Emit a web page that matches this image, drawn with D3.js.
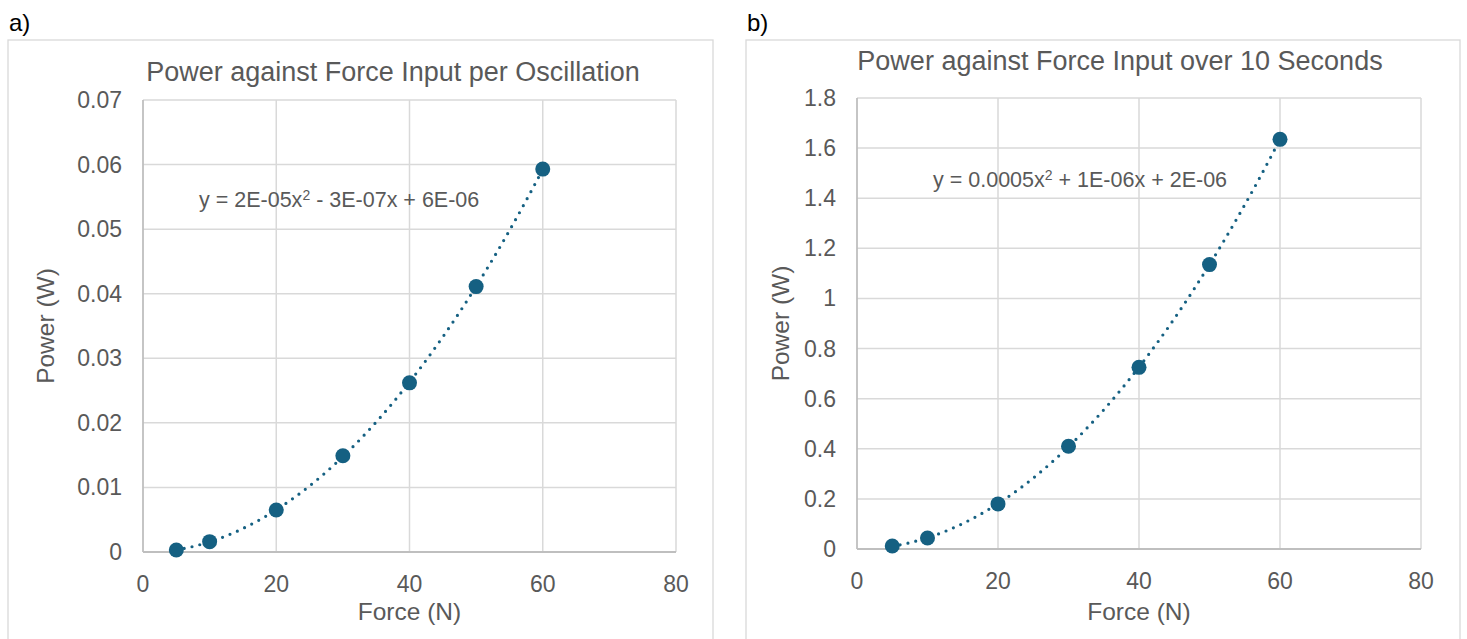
<!DOCTYPE html>
<html>
<head>
<meta charset="utf-8">
<script src="https://cdn.jsdelivr.net/npm/d3@7"></script>
<style>
  body { margin: 0; background: #fff; }
  svg text { font-family: "Liberation Sans", Arial, sans-serif; fill: #595959; }
</style>
</head>
<body>
<div id="chart"></div>
<script>
'use strict';

// Force input (N), same for both charts
const force = [5, 10, 20, 30, 40, 50, 60];
// Power per oscillation (W)
const powerPerOsc = [0.0003, 0.0016, 0.0065, 0.0149, 0.0262, 0.0411, 0.0593];
// Power over 10 seconds (W)
const power10s = [0.012, 0.044, 0.18, 0.41, 0.725, 1.135, 1.635];

const xTicks = [0, 20, 40, 60, 80];
const yTicksA = [0, 0.01, 0.02, 0.03, 0.04, 0.05, 0.06, 0.07];
const yTicksB = [0, 0.2, 0.4, 0.6, 0.8, 1, 1.2, 1.4, 1.6, 1.8];

const markerColor = '#156082';

const svg = d3.select('#chart')
    .append('svg')
    .attr('width', 1467)
    .attr('height', 639);

/*** Least squares quadratic fit, returns [a, b, c] for a*x^2 + b*x + c ***/
function quadFit(xs, ys) {
    let s = [0, 0, 0, 0, 0], t = [0, 0, 0];
    xs.forEach((x, i) => {
        for (let k = 0; k < 5; k++) s[k] += Math.pow(x, k);
        for (let k = 0; k < 3; k++) t[k] += Math.pow(x, k) * ys[i];
    });
    // normal equations, solved with Cramer's rule
    let m = [[s[4], s[3], s[2]], [s[3], s[2], s[1]], [s[2], s[1], s[0]]];
    let r = [t[2], t[1], t[0]];
    let det = (q) => q[0][0] * (q[1][1] * q[2][2] - q[1][2] * q[2][1])
        - q[0][1] * (q[1][0] * q[2][2] - q[1][2] * q[2][0])
        + q[0][2] * (q[1][0] * q[2][1] - q[1][1] * q[2][0]);
    let d = det(m);
    return [0, 1, 2].map(col => {
        let q = m.map((row, i) => row.map((v, j) => j === col ? r[i] : v));
        return det(q) / d;
    });
}

function drawChart(opt) {
    let g = svg.append('g');

    // panel label and frame
    g.append('text')
        .attr('x', opt.frame[0] + 1).attr('y', 31)
        .style('font-size', '24px').style('fill', '#000')
        .text(opt.label);
    g.append('rect')
        .attr('x', opt.frame[0]).attr('y', 40)
        .attr('width', opt.frame[1] - opt.frame[0]).attr('height', 620)
        .attr('fill', 'none').attr('stroke', '#d9d9d9').attr('stroke-width', 1.3);

    let x = d3.scaleLinear().domain([0, 80]).range([opt.plot[0], opt.plot[1]]);
    let y = d3.scaleLinear().domain([0, opt.yMax]).range([opt.plot[3], opt.plot[2]]);

    // grid lines
    g.selectAll('.hgrid').data(opt.yTicks.slice(1)).enter()
        .append('line')
        .attr('x1', x(0)).attr('x2', x(80))
        .attr('y1', d => y(d)).attr('y2', d => y(d))
        .attr('stroke', '#d9d9d9').attr('stroke-width', 1.5);
    g.selectAll('.vgrid').data(xTicks.slice(1)).enter()
        .append('line')
        .attr('x1', d => x(d)).attr('x2', d => x(d))
        .attr('y1', y(0)).attr('y2', y(opt.yMax))
        .attr('stroke', '#d9d9d9').attr('stroke-width', 1.5);

    // axis lines
    g.append('line')
        .attr('x1', x(0)).attr('x2', x(80)).attr('y1', y(0)).attr('y2', y(0))
        .attr('stroke', '#bfbfbf').attr('stroke-width', 1.8);
    g.append('line')
        .attr('x1', x(0)).attr('x2', x(0)).attr('y1', y(0)).attr('y2', y(opt.yMax))
        .attr('stroke', '#bfbfbf').attr('stroke-width', 1.8);

    // tick labels
    g.selectAll('.ylab').data(opt.yTicks).enter()
        .append('text')
        .attr('x', x(0) - 21).attr('y', d => y(d)).attr('dy', '0.35em')
        .attr('text-anchor', 'end').style('font-size', '23px')
        .text(d => d);
    g.selectAll('.xlab').data(xTicks).enter()
        .append('text')
        .attr('x', d => x(d)).attr('y', y(0) + 32)
        .attr('dy', '0.35em')
        .attr('text-anchor', 'middle').style('font-size', '23px')
        .text(d => d);

    // titles
    g.append('text')
        .attr('x', opt.titlePos[0]).attr('y', opt.titlePos[1]).attr('dy', '0.35em')
        .attr('text-anchor', 'middle').style('font-size', '27px')
        .text(opt.title);
    g.append('text')
        .attr('x', (x(0) + x(80)) / 2).attr('y', 611).attr('dy', '0.35em')
        .attr('text-anchor', 'middle').style('font-size', '24.5px')
        .text('Force (N)');
    g.append('text')
        .attr('transform', `translate(${opt.yTitleX}, ${(y(0) + y(opt.yMax)) / 2}) rotate(-90)`)
        .attr('dy', '0.35em')
        .attr('text-anchor', 'middle').style('font-size', '24.5px')
        .text('Power (W)');

    // trendline
    let coef = quadFit(force, opt.values);
    let fx = d3.range(5, 60.01, 0.5);
    let line = d3.line()
        .x(d => x(d))
        .y(d => y(coef[0] * d * d + coef[1] * d + coef[2]));
    g.append('path')
        .attr('d', line(fx))
        .attr('fill', 'none')
        .attr('stroke', markerColor)
        .attr('stroke-width', 3.2)
        .attr('stroke-linecap', 'round')
        .attr('stroke-dasharray', '0 8');

    // markers
    g.selectAll('.pt').data(force).enter()
        .append('circle')
        .attr('cx', d => x(d))
        .attr('cy', (d, i) => y(opt.values[i]))
        .attr('r', 7.5)
        .attr('fill', markerColor);

    // trendline equation
    let eq = g.append('text')
        .attr('x', opt.eqPos[0]).attr('y', opt.eqPos[1]).attr('dy', '0.35em')
        .style('font-size', '21.5px');
    eq.append('tspan').text(opt.equation[0]);
    eq.append('tspan').attr('dy', '-0.45em').style('font-size', '14px').text('2');
    eq.append('tspan').attr('dy', '0.3em').text(opt.equation[1]);
}

drawChart({
    label: 'a)',
    frame: [8, 713],
    plot: [143, 676, 100, 552],
    yMax: 0.07,
    yTicks: yTicksA,
    values: powerPerOsc,
    title: 'Power against Force Input per Oscillation',
    titlePos: [393, 72],
    yTitleX: 45,
    eqPos: [199, 199],
    equation: ['y = 2E-05x', ' - 3E-07x + 6E-06']
});

drawChart({
    label: 'b)',
    frame: [746, 1460],
    plot: [857, 1421, 98, 549],
    yMax: 1.8,
    yTicks: yTicksB,
    values: power10s,
    title: 'Power against Force Input over 10 Seconds',
    titlePos: [1120, 61],
    yTitleX: 780,
    eqPos: [933, 179],
    equation: ['y = 0.0005x', ' + 1E-06x + 2E-06']
});
</script>
</body>
</html>
